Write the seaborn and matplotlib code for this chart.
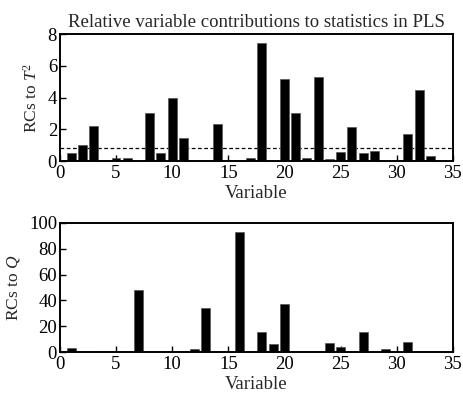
import numpy as np
import pandas as pd
import matplotlib
matplotlib.use("Agg")
import matplotlib.pyplot as plt
import seaborn as sns

sns.set_theme(style="white")
plt.rcParams['font.family'] = ['Liberation Serif', 'DejaVu Serif']
plt.rcParams['mathtext.fontset'] = 'custom'
plt.rcParams['mathtext.rm'] = 'Liberation Serif'
plt.rcParams['mathtext.it'] = 'Liberation Serif:italic'

variables = list(range(1, 34))
rc_t2 = [0.5, 1.02, 2.23, 0.0, 0.17, 0.23, 0.0, 3.06, 0.5, 4.0,
         1.44, 0.0, 0.0, 2.33, 0.0, 0.0, 0.23, 7.44, 0.0, 5.17,
         3.04, 0.19, 5.31, 0.15, 0.6, 2.15, 0.5, 0.65, 0.0, 0.0,
         1.73, 4.48, 0.35]
rc_q = [3.5, 0.0, 0.0, 0.8, 0.0, 0.0, 48.0, 0.0, 0.0, 0.0,
        0.5, 2.0, 34.0, 0.0, 0.0, 93.0, 0.0, 15.7, 6.6, 37.0,
        0.0, 0.0, 0.0, 7.0, 3.8, 0.0, 15.7, 0.0, 2.3, 0.0,
        8.1, 0.0, 0.0]
t2_limit = 0.85

df = pd.DataFrame({"Variable": variables, "T2": rc_t2, "Q": rc_q})

fig = plt.figure(figsize=(4.64, 3.96), dpi=100)
ax1 = fig.add_axes([0.129, 0.593, 0.847, 0.321])
ax2 = fig.add_axes([0.129, 0.111, 0.847, 0.326])

fs = 13.5
for ax, col, ylim, yticks, ylabel in [
        (ax1, "T2", (0, 8), [0, 2, 4, 6, 8], r'RCs to $\mathit{T}^2$'),
        (ax2, "Q", (0, 100), [0, 20, 40, 60, 80, 100], r'RCs to $\mathit{Q}$')]:
    sns.barplot(data=df, x="Variable", y=col, native_scale=True, ax=ax,
                color="black", width=0.8, edgecolor="#555555", linewidth=0.5,
                saturation=1)
    ax.set_xlim(0, 35)
    ax.set_ylim(*ylim)
    ax.set_xticks([0, 5, 10, 15, 20, 25, 30, 35])
    ax.set_yticks(yticks)
    ax.set_xlabel("Variable", fontsize=fs, labelpad=2)
    ax.set_ylabel(ylabel, fontsize=12.5, labelpad=5)
    ax.tick_params(direction="in", length=4, width=1, labelsize=fs,
                   colors="black", left=True, bottom=True)
    ax.tick_params(axis="x", pad=3)
    ax.tick_params(axis="y", pad=2)
    for s in ax.spines.values():
        s.set_color("black")
        s.set_linewidth(1.4)

ax1.axhline(t2_limit, color="black", linestyle=(0, (3, 2)), linewidth=0.9, zorder=0.5)
ax1.set_title("Relative variable contributions to statistics in PLS",
              fontsize=fs, pad=5)

fig.savefig("out.png", dpi=100)
